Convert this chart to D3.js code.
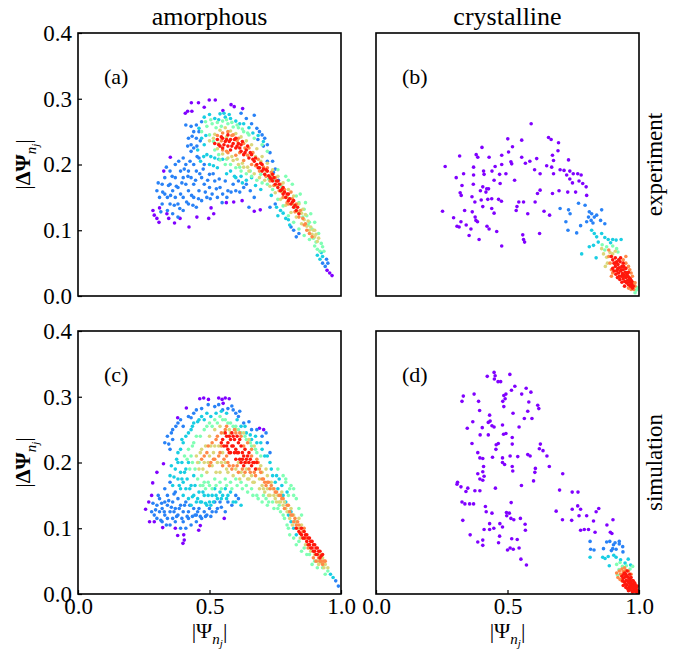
<!DOCTYPE html>
<html>
<head>
<meta charset="utf-8" />
<title>amorphous vs crystalline</title>
<script src="https://cdn.jsdelivr.net/npm/d3@7"></script>
<style>
  html, body { margin: 0; background: #fff; }
  svg text { font-family: "Liberation Serif", "Times New Roman", serif; fill: #000; }
</style>
</head>
<body>
<svg id="chart" width="685" height="651"></svg>
<script>
// ---- data ----
var xTicks = [0, 0.5, 1.0];
var yTicks = [0, 0.1, 0.2, 0.3, 0.4];
var colTitles = ["amorphous", "crystalline"];
var rowTitles = ["experiment", "simulation"];
var panelTags = ["(a)", "(b)", "(c)", "(d)"];
// colour level of each group (position in the rainbow map, i.e. point density)
var levels = { purple: 0, blue: 0.17, cyan: 0.3, green: 0.5, yellow: 0.68, orange: 0.82, red: 0.97 };

// (a) amorphous / experiment
var aPurple = [[0.408,0.278],[0.417,0.281],[0.433,0.281],[0.431,0.294],[0.458,0.294],[0.499,0.298],[0.522,0.298],[0.551,0.282],[0.582,0.291],[0.594,0.288],[0.626,0.285],[0.48,0.287],
  [0.285,0.13],[0.29,0.123],[0.3,0.118],[0.308,0.112],[0.351,0.211],[0.326,0.19],[0.345,0.118],[0.367,0.111],[0.388,0.118],[0.422,0.105],[0.452,0.12],[0.497,0.118],[0.516,0.125],[0.506,0.134],
  [0.564,0.142],[0.592,0.143],[0.624,0.145],[0.67,0.129],[0.693,0.131],[0.31,0.134],[0.338,0.125],[0.957,0.035],[0.966,0.031],[0.947,0.039]];
var aBlue = [[0.30,0.16],[0.31,0.15],[0.32,0.17],[0.32,0.14],[0.33,0.18],[0.33,0.155],[0.34,0.13],[0.34,0.15],[0.35,0.19],[0.35,0.17],[0.35,0.14],[0.36,0.16],[0.36,0.125],[0.37,0.2],
  [0.37,0.18],[0.37,0.15],[0.38,0.165],[0.38,0.14],[0.38,0.12],[0.39,0.19],[0.39,0.155],[0.40,0.21],[0.40,0.18],[0.40,0.15],[0.40,0.13],[0.41,0.17],[0.41,0.2],[0.42,0.14],[0.42,0.19],
  [0.42,0.16],[0.43,0.22],[0.43,0.18],[0.44,0.15],[0.44,0.2],[0.44,0.17],[0.45,0.135],[0.45,0.19],[0.46,0.16],[0.46,0.21],[0.47,0.18],[0.47,0.145],[0.48,0.2],[0.48,0.17],[0.49,0.15],
  [0.5,0.185],[0.5,0.165],[0.51,0.155],[0.52,0.175],[0.53,0.15],[0.54,0.165],[0.55,0.155],[0.56,0.175],[0.57,0.16],[0.59,0.17],[0.6,0.16],[0.61,0.175],[0.63,0.165],[0.64,0.17],
  [0.42,0.24],[0.43,0.23],[0.44,0.25],[0.44,0.225],[0.45,0.26],[0.45,0.24],[0.46,0.25],[0.47,0.265],[0.43,0.258],[0.41,0.26],
  [0.65,0.135],[0.67,0.15],[0.73,0.135],[0.75,0.14],[0.82,0.1],[0.83,0.09],[0.84,0.095],[0.81,0.105],
  [0.62,0.278],[0.64,0.27],[0.66,0.262],[0.68,0.255],[0.69,0.25],[0.7,0.245],[0.71,0.24],[0.72,0.23],[0.73,0.218],[0.74,0.205],[0.75,0.193],[0.72,0.205],[0.67,0.275],
  [0.93,0.05],[0.94,0.045],[0.95,0.05],[0.945,0.056],
  [0.305,0.172],[0.315,0.128],[0.322,0.158],[0.336,0.196],[0.344,0.168],[0.352,0.153],[0.358,0.182],[0.366,0.138],[0.374,0.167],[0.383,0.205],[0.387,0.133],[0.395,0.172],
  [0.404,0.193],[0.413,0.143],[0.418,0.182],[0.426,0.205],[0.432,0.153],[0.437,0.138],[0.447,0.176],[0.453,0.212],[0.458,0.148],[0.463,0.186],[0.476,0.193],[0.484,0.158],
  [0.493,0.176],[0.503,0.148],[0.514,0.186],[0.526,0.163],[0.537,0.178],[0.548,0.142],[0.566,0.15],[0.582,0.158],[0.615,0.158],[0.655,0.16],[0.434,0.243],[0.452,0.228],
  [0.465,0.236],[0.417,0.228],[0.684,0.238],[0.705,0.228],[0.743,0.188],[0.762,0.176]];
var aCyan = [[0.46,0.255],[0.48,0.272],[0.5,0.276],[0.52,0.27],[0.54,0.277],[0.56,0.272],[0.58,0.27],[0.6,0.266],[0.5,0.2],[0.52,0.21],[0.53,0.195],[0.55,0.208],[0.58,0.19],[0.6,0.18],
  [0.62,0.182],[0.64,0.176],[0.66,0.18],[0.48,0.23],[0.47,0.24],[0.76,0.122],[0.77,0.13],[0.78,0.126],[0.8,0.116],[0.91,0.062],[0.92,0.056],[0.93,0.06],[0.925,0.066],[0.49,0.215],
  [0.63,0.262],[0.65,0.256],
  [0.455,0.222],[0.466,0.205],[0.478,0.212],[0.486,0.244],[0.505,0.212],[0.515,0.198],[0.535,0.208],[0.565,0.186],[0.595,0.182],[0.625,0.172],[0.675,0.168],[0.695,0.162],
  [0.735,0.153],[0.755,0.135],[0.79,0.118],[0.805,0.108],[0.555,0.278],[0.575,0.276],[0.535,0.268],[0.615,0.262],[0.665,0.248],[0.685,0.244],[0.705,0.235]];
var aGreen = [[0.47,0.25],[0.49,0.258],[0.51,0.262],[0.53,0.264],[0.55,0.266],[0.57,0.262],[0.59,0.257],[0.61,0.256],[0.63,0.25],[0.65,0.245],[0.67,0.24],[0.5,0.245],[0.52,0.222],
  [0.54,0.207],[0.56,0.2],[0.58,0.2],[0.6,0.195],[0.62,0.19],[0.64,0.186],[0.66,0.182],[0.68,0.176],[0.7,0.172],[0.72,0.17],[0.74,0.162],[0.76,0.147],[0.78,0.137],[0.8,0.122],
  [0.82,0.112],[0.84,0.102],[0.86,0.092],[0.88,0.086],[0.9,0.076],[0.91,0.071],[0.92,0.068],[0.83,0.152],[0.84,0.142],[0.86,0.132],[0.87,0.122],[0.88,0.112],[0.89,0.102],
  [0.79,0.182],[0.8,0.176],[0.76,0.192],[0.72,0.22],[0.7,0.23],[0.935,0.068],[0.93,0.075],
  [0.485,0.265],[0.505,0.268],[0.525,0.256],[0.545,0.258],[0.565,0.268],[0.585,0.264],[0.605,0.26],[0.625,0.254],[0.645,0.248],[0.515,0.235],[0.535,0.215],[0.565,0.208],
  [0.615,0.196],[0.655,0.19],[0.695,0.185],[0.725,0.178],[0.745,0.176],[0.775,0.166],[0.805,0.148],[0.825,0.135],[0.855,0.12],[0.875,0.108],[0.895,0.088],[0.905,0.082],
  [0.815,0.17],[0.845,0.155],[0.865,0.142],[0.885,0.125],[0.9,0.112],[0.915,0.095],[0.925,0.08]];
var aYellow = [[0.5,0.236],[0.52,0.246],[0.54,0.252],[0.56,0.256],[0.58,0.251],[0.6,0.247],[0.62,0.242],[0.64,0.236],[0.66,0.23],[0.68,0.224],[0.7,0.212],[0.72,0.202],[0.74,0.192],
  [0.76,0.182],[0.78,0.172],[0.8,0.162],[0.82,0.152],[0.84,0.14],[0.85,0.126],[0.86,0.116],[0.87,0.106],[0.88,0.1],[0.89,0.094],[0.9,0.09],[0.91,0.083],[0.9,0.1],[0.53,0.224],
  [0.55,0.216],[0.57,0.21],[0.59,0.206],[0.61,0.2],[0.63,0.196],[0.65,0.19],[0.67,0.186],[0.69,0.18],[0.71,0.176],[0.73,0.167],[0.75,0.157],[0.77,0.147],[0.79,0.138],[0.81,0.127],
  [0.83,0.12],[0.85,0.11],
  [0.515,0.24],[0.535,0.232],[0.565,0.242],[0.585,0.212],[0.605,0.208],[0.625,0.202],[0.645,0.196],[0.675,0.212],[0.695,0.205],[0.715,0.19],[0.735,0.183],[0.755,0.168],
  [0.775,0.158],[0.795,0.15],[0.815,0.14],[0.835,0.128],[0.855,0.132],[0.865,0.124],[0.875,0.114],[0.885,0.105],[0.895,0.1],[0.905,0.094],[0.915,0.088]];
var aOrange = [[0.53,0.244],[0.55,0.248],[0.57,0.25],[0.59,0.245],[0.61,0.24],[0.63,0.232],[0.65,0.225],[0.55,0.222],[0.57,0.218],[0.6,0.214],[0.63,0.206],[0.66,0.2],[0.69,0.19],
  [0.72,0.195],[0.73,0.175],[0.75,0.18],[0.77,0.17],[0.78,0.15],[0.8,0.14],[0.81,0.158],[0.83,0.14],[0.84,0.12],[0.86,0.108],[0.87,0.1],[0.88,0.095],[0.89,0.09],
  [0.545,0.236],[0.565,0.22],[0.585,0.244],[0.605,0.236],[0.615,0.218],[0.635,0.225],[0.645,0.214],[0.665,0.218],[0.675,0.198],[0.685,0.208],[0.705,0.196],[0.715,0.182],
  [0.735,0.188],[0.745,0.168],[0.765,0.16],[0.785,0.162],[0.795,0.142],[0.815,0.148],[0.825,0.128],[0.845,0.13],[0.855,0.118],[0.865,0.11]];
var aRed = [[0.52,0.232],[0.53,0.238],[0.54,0.228],[0.55,0.24],[0.55,0.225],[0.56,0.235],[0.57,0.245],[0.57,0.228],[0.58,0.238],[0.58,0.222],[0.59,0.232],[0.6,0.24],[0.6,0.225],
  [0.61,0.232],[0.62,0.22],[0.62,0.23],[0.63,0.215],[0.64,0.222],[0.65,0.21],[0.66,0.215],[0.67,0.205],[0.68,0.2],[0.69,0.195],[0.7,0.19],[0.7,0.2],[0.71,0.185],[0.72,0.19],
  [0.73,0.18],[0.74,0.175],[0.74,0.185],[0.75,0.17],[0.76,0.165],[0.76,0.175],[0.77,0.16],[0.78,0.155],[0.78,0.165],[0.79,0.15],[0.8,0.145],[0.8,0.155],[0.81,0.14],[0.82,0.135],
  [0.82,0.145],[0.83,0.13],[0.84,0.125],
  [0.535,0.23],[0.545,0.242],[0.555,0.23],[0.565,0.238],[0.575,0.235],[0.585,0.228],[0.595,0.238],[0.605,0.228],[0.615,0.225],[0.625,0.235],[0.635,0.218],[0.645,0.228],
  [0.655,0.218],[0.665,0.208],[0.675,0.21],[0.685,0.195],[0.695,0.202],[0.705,0.193],[0.715,0.192],[0.725,0.183],[0.735,0.178],[0.745,0.18],[0.755,0.175],[0.765,0.17],
  [0.775,0.162],[0.785,0.158],[0.795,0.155],[0.805,0.148],[0.815,0.143],[0.825,0.138],[0.835,0.135]];

// (b) crystalline / experiment
var bPurple = [[0.59,0.262],[0.501,0.239],[0.554,0.237],[0.656,0.241],[0.666,0.238],[0.694,0.233],[0.403,0.226],[0.519,0.227],[0.504,0.219],[0.318,0.213],[0.381,0.215],[0.387,0.211],
  [0.43,0.211],[0.478,0.214],[0.554,0.211],[0.611,0.209],[0.671,0.214],[0.692,0.221],[0.675,0.206],[0.732,0.207],[0.263,0.197],[0.371,0.196],[0.453,0.197],[0.478,0.2],[0.513,0.204],
  [0.516,0.201],[0.568,0.202],[0.585,0.205],[0.603,0.192],[0.7,0.192],[0.715,0.191],[0.737,0.19],[0.305,0.18],[0.371,0.184],[0.411,0.185],[0.449,0.176],[0.47,0.185],[0.494,0.186],
  [0.527,0.176],[0.675,0.186],[0.767,0.186],[0.78,0.184],[0.327,0.168],[0.37,0.17],[0.406,0.166],[0.421,0.163],[0.472,0.171],[0.737,0.178],[0.747,0.172],[0.772,0.175],[0.786,0.171],
  [0.32,0.157],[0.324,0.153],[0.397,0.16],[0.418,0.158],[0.428,0.163],[0.425,0.147],[0.44,0.148],[0.466,0.147],[0.477,0.144],[0.624,0.161],[0.614,0.156],[0.671,0.156],[0.696,0.16],
  [0.729,0.158],[0.759,0.158],[0.799,0.166],[0.801,0.153],[0.365,0.151],[0.376,0.143],[0.4,0.146],[0.406,0.136],[0.543,0.143],[0.561,0.143],[0.605,0.143],[0.253,0.129],[0.337,0.13],
  [0.366,0.128],[0.44,0.133],[0.449,0.126],[0.533,0.13],[0.536,0.136],[0.577,0.125],[0.639,0.129],[0.66,0.123],[0.295,0.119],[0.377,0.12],[0.38,0.115],[0.386,0.113],[0.323,0.113],
  [0.308,0.106],[0.316,0.105],[0.343,0.108],[0.361,0.102],[0.422,0.106],[0.43,0.102],[0.459,0.098],[0.558,0.093],[0.561,0.086],[0.565,0.082],[0.622,0.095],[0.354,0.092],[0.392,0.086],
  [0.478,0.076],[0.333,0.186],[0.409,0.19],[0.441,0.19],[0.624,0.186],[0.649,0.198],[0.668,0.196],[0.725,0.184],[0.75,0.186]];
var bBlue = [[0.7,0.133],[0.732,0.131],[0.738,0.125],[0.77,0.141],[0.795,0.138],[0.811,0.128],[0.82,0.125],[0.83,0.12],[0.839,0.123],[0.858,0.131],[0.722,0.113],[0.73,0.1],
  [0.763,0.096],[0.778,0.107],[0.801,0.113],[0.808,0.12],[0.818,0.115],[0.825,0.111],[0.854,0.115],[0.87,0.11]];
var bCyan = [[0.82,0.1],[0.83,0.095],[0.839,0.09],[0.858,0.095],[0.87,0.089],[0.883,0.086],[0.9,0.086],[0.913,0.085],[0.932,0.086],[0.892,0.081],[0.827,0.077],[0.811,0.075],
  [0.837,0.058],[0.782,0.064],[0.845,0.082]];
var bGreen = [[0.877,0.075],[0.915,0.072],[0.92,0.067],[0.86,0.078],[0.87,0.07],[0.9,0.076],[0.99,0.009],[0.985,0.005],[0.993,0.013]];
var bYellow = [[0.858,0.072],[0.865,0.064],[0.877,0.059],[0.89,0.066],[0.9,0.064],[0.872,0.045],[0.91,0.068],[0.88,0.05]];
var bOrange = [[0.885,0.07],[0.89,0.05],[0.895,0.04],[0.95,0.05],[0.965,0.04],[0.975,0.03],[0.98,0.02],[0.985,0.015],[0.97,0.01],[0.96,0.012],[0.98,0.01],[0.9,0.035],[0.94,0.055],
  [0.885,0.06],[0.95,0.06],[0.96,0.045],[0.97,0.035],[0.985,0.02],[0.895,0.03]];
var bRed = [[0.895,0.06],[0.9,0.055],[0.905,0.05],[0.91,0.058],[0.91,0.045],[0.915,0.052],[0.918,0.04],[0.92,0.048],[0.922,0.035],[0.925,0.043],[0.928,0.052],[0.93,0.038],
  [0.932,0.03],[0.935,0.045],[0.937,0.034],[0.94,0.026],[0.94,0.04],[0.943,0.032],[0.946,0.022],[0.948,0.036],[0.95,0.028],[0.953,0.02],[0.955,0.032],[0.957,0.024],[0.96,0.017],
  [0.962,0.028],[0.965,0.021],[0.968,0.015],[0.97,0.024],[0.972,0.018],[0.975,0.012],[0.9,0.042],[0.905,0.038],[0.912,0.033],[0.918,0.028],[0.927,0.025],[0.935,0.021],[0.945,0.015],
  [0.93,0.058],[0.94,0.05],[0.95,0.042],[0.96,0.036],
  [0.91,0.05],[0.92,0.042],[0.925,0.03],[0.933,0.04],[0.938,0.03],[0.942,0.045],[0.948,0.03],[0.952,0.035],[0.958,0.03],[0.963,0.024],[0.967,0.026],[0.973,0.022],[0.978,0.015],
  [0.923,0.055],[0.915,0.038]];

// (c) amorphous / simulation
var cPurple = [[0.463,0.297],[0.478,0.298],[0.496,0.296],[0.535,0.298],[0.548,0.296],[0.56,0.298],[0.575,0.297],[0.552,0.29],[0.412,0.283],[0.257,0.129],[0.269,0.14],[0.272,0.11],
  [0.284,0.169],[0.3,0.185],[0.322,0.101],[0.325,0.198],[0.37,0.1],[0.379,0.089],[0.402,0.09],[0.404,0.082],[0.399,0.077],[0.459,0.097],[0.465,0.104],[0.556,0.115],[0.379,0.268],
  [0.706,0.25],[0.69,0.252],[0.28,0.15],[0.29,0.11]];
var cBlue = [[0.28,0.125],[0.29,0.12],[0.3,0.135],[0.3,0.115],[0.31,0.125],[0.31,0.145],[0.32,0.13],[0.32,0.11],[0.33,0.14],[0.33,0.12],[0.33,0.16],[0.34,0.115],[0.34,0.135],
  [0.34,0.15],[0.35,0.105],[0.35,0.125],[0.35,0.17],[0.36,0.14],[0.36,0.115],[0.37,0.13],[0.37,0.155],[0.37,0.11],[0.38,0.12],[0.38,0.145],[0.39,0.1],[0.39,0.135],[0.4,0.11],
  [0.4,0.125],[0.41,0.1],[0.41,0.14],[0.42,0.115],[0.42,0.125],[0.43,0.105],[0.44,0.13],[0.45,0.11],[0.45,0.12],[0.46,0.13],[0.47,0.115],[0.48,0.125],[0.49,0.12],[0.5,0.13],
  [0.51,0.125],[0.52,0.14],[0.53,0.13],[0.54,0.14],[0.56,0.125],[0.57,0.14],[0.6,0.15],[0.61,0.145],[0.33,0.23],[0.34,0.24],[0.35,0.22],[0.36,0.235],[0.36,0.25],[0.38,0.26],
  [0.4,0.255],[0.42,0.27],[0.44,0.275],[0.45,0.28],[0.52,0.285],[0.55,0.28],[0.57,0.282],[0.59,0.28],[0.6,0.275],[0.61,0.27],[0.63,0.26],[0.66,0.25],[0.68,0.25],[0.7,0.24],
  [0.72,0.23],[0.98,0.02],[0.99,0.012],
  [0.285,0.138],[0.295,0.128],[0.305,0.15],[0.315,0.112],[0.318,0.138],[0.328,0.125],[0.336,0.105],[0.345,0.142],[0.355,0.132],[0.365,0.125],[0.365,0.152],[0.375,0.118],
  [0.385,0.13],[0.395,0.115],[0.405,0.135],[0.415,0.118],[0.425,0.135],[0.435,0.118],[0.445,0.12],[0.455,0.125],[0.465,0.118],[0.485,0.118],[0.505,0.118],[0.525,0.125],
  [0.545,0.132],[0.585,0.135],[0.345,0.228],[0.355,0.245],[0.372,0.255],[0.39,0.265],[0.43,0.268],[0.47,0.282],[0.495,0.288],[0.535,0.288],[0.585,0.286],[0.615,0.278],
  [0.65,0.262],[0.715,0.245],[0.73,0.215]];
var cCyan = [[0.35,0.18],[0.36,0.165],[0.37,0.19],[0.38,0.175],[0.38,0.2],[0.39,0.16],[0.39,0.185],[0.4,0.15],[0.4,0.17],[0.41,0.19],[0.41,0.16],[0.42,0.145],[0.42,0.2],[0.43,0.135],
  [0.43,0.165],[0.44,0.15],[0.44,0.18],[0.45,0.14],[0.46,0.155],[0.47,0.14],[0.48,0.15],[0.49,0.135],[0.5,0.14],[0.51,0.15],[0.52,0.16],[0.53,0.145],[0.54,0.155],[0.55,0.15],
  [0.56,0.16],[0.57,0.15],[0.39,0.22],[0.4,0.23],[0.41,0.24],[0.43,0.25],[0.44,0.26],[0.46,0.265],[0.47,0.27],[0.49,0.275],[0.62,0.255],[0.64,0.245],[0.66,0.235],[0.68,0.23],
  [0.7,0.22],[0.71,0.21],[0.73,0.2],[0.74,0.18],[0.75,0.17],[0.76,0.16],[0.78,0.15],[0.79,0.14],[0.8,0.12],[0.81,0.11],[0.82,0.1],[0.83,0.09],[0.96,0.03],[0.97,0.025],
  [0.6,0.14],[0.62,0.135],
  [0.355,0.195],[0.365,0.178],[0.375,0.205],[0.385,0.165],[0.395,0.175],[0.395,0.2],[0.405,0.185],[0.415,0.175],[0.425,0.16],[0.435,0.148],[0.445,0.165],[0.455,0.145],
  [0.465,0.14],[0.475,0.155],[0.485,0.138],[0.495,0.15],[0.505,0.135],[0.515,0.14],[0.525,0.15],[0.545,0.145],[0.565,0.145],[0.58,0.155],[0.59,0.14],[0.38,0.215],[0.395,0.235],
  [0.42,0.245],[0.435,0.255],[0.455,0.262],[0.48,0.265],[0.505,0.27],[0.525,0.275],[0.545,0.278],[0.565,0.275],[0.605,0.265],[0.635,0.255],[0.655,0.242],[0.675,0.24],
  [0.695,0.23],[0.72,0.21],[0.735,0.19],[0.755,0.18],[0.765,0.175],[0.775,0.165],[0.795,0.155],[0.81,0.125],[0.825,0.11]];
var cGreen = [[0.42,0.22],[0.43,0.21],[0.44,0.23],[0.45,0.24],[0.46,0.2],[0.47,0.18],[0.48,0.17],[0.48,0.25],[0.5,0.165],[0.5,0.26],[0.52,0.175],[0.52,0.265],[0.54,0.17],[0.54,0.27],
  [0.56,0.175],[0.56,0.265],[0.58,0.17],[0.58,0.26],[0.6,0.175],[0.6,0.255],[0.62,0.17],[0.62,0.245],[0.64,0.165],[0.64,0.235],[0.66,0.16],[0.66,0.225],[0.68,0.15],[0.68,0.215],
  [0.7,0.14],[0.72,0.135],[0.74,0.14],[0.76,0.13],[0.78,0.12],[0.8,0.15],[0.81,0.165],[0.82,0.16],[0.83,0.145],[0.84,0.13],[0.85,0.12],[0.8,0.1],[0.82,0.085],[0.84,0.08],
  [0.86,0.07],[0.88,0.06],[0.9,0.05],[0.93,0.04],[0.95,0.035],[0.76,0.19],[0.78,0.18],[0.79,0.17],
  [0.405,0.21],[0.415,0.205],[0.425,0.19],[0.435,0.2],[0.435,0.225],[0.445,0.19],[0.455,0.175],[0.465,0.165],[0.465,0.24],[0.475,0.165],[0.485,0.16],[0.49,0.255],[0.495,0.17],
  [0.51,0.16],[0.51,0.255],[0.525,0.165],[0.53,0.26],[0.545,0.16],[0.55,0.265],[0.565,0.165],[0.57,0.26],[0.585,0.16],[0.59,0.255],[0.605,0.165],[0.61,0.25],[0.625,0.16],
  [0.635,0.24],[0.645,0.155],[0.655,0.23],[0.665,0.15],[0.675,0.22],[0.685,0.145],[0.695,0.21],[0.705,0.15],[0.715,0.145],[0.725,0.14],[0.745,0.13],[0.765,0.135],[0.77,0.125],
  [0.785,0.115],[0.795,0.105],[0.805,0.09],[0.83,0.075],[0.85,0.065],[0.87,0.06],[0.89,0.045],[0.91,0.04],[0.94,0.03],[0.805,0.16],[0.82,0.15],[0.79,0.175]];
var cYellow = [[0.45,0.21],[0.46,0.19],[0.47,0.22],[0.48,0.2],[0.49,0.185],[0.5,0.24],[0.5,0.21],[0.51,0.195],[0.52,0.25],[0.52,0.225],[0.53,0.2],[0.54,0.255],[0.54,0.185],
  [0.55,0.215],[0.56,0.2],[0.57,0.185],[0.58,0.245],[0.6,0.19],[0.61,0.2],[0.62,0.185],[0.63,0.18],[0.64,0.19],[0.65,0.175],[0.66,0.18],[0.67,0.17],[0.68,0.19],[0.69,0.175],
  [0.7,0.165],[0.7,0.185],[0.71,0.155],[0.72,0.16],[0.72,0.18],[0.73,0.15],[0.74,0.16],[0.75,0.145],[0.76,0.15],[0.77,0.14],[0.78,0.135],[0.79,0.13],[0.8,0.125],[0.81,0.13],
  [0.82,0.12],[0.83,0.11],[0.84,0.115],[0.85,0.105],[0.91,0.05],[0.92,0.06],[0.93,0.055],[0.94,0.045],[0.95,0.04],
  [0.455,0.2],[0.465,0.215],[0.475,0.19],[0.485,0.225],[0.495,0.2],[0.505,0.225],[0.515,0.215],[0.525,0.185],[0.535,0.225],[0.545,0.2],[0.555,0.245],[0.565,0.19],[0.575,0.25],
  [0.59,0.18],[0.6,0.25],[0.615,0.175],[0.63,0.245],[0.645,0.175],[0.65,0.235],[0.665,0.17],[0.67,0.225],[0.69,0.16],[0.695,0.195],[0.705,0.16],[0.715,0.19],[0.725,0.15],
  [0.735,0.17],[0.745,0.15],[0.755,0.14],[0.765,0.14],[0.775,0.155],[0.785,0.14],[0.795,0.125],[0.805,0.115],[0.815,0.105],[0.835,0.1],[0.845,0.085],[0.865,0.075],[0.885,0.065],
  [0.9,0.06],[0.915,0.045],[0.925,0.048],[0.935,0.04]];
var cOrange = [[0.47,0.205],[0.49,0.215],[0.5,0.195],[0.51,0.23],[0.52,0.205],[0.53,0.24],[0.54,0.215],[0.55,0.195],[0.56,0.25],[0.57,0.2],[0.59,0.195],[0.6,0.245],[0.61,0.185],
  [0.62,0.24],[0.63,0.225],[0.64,0.2],[0.65,0.19],[0.66,0.21],[0.67,0.185],[0.68,0.205],[0.69,0.19],[0.7,0.175],[0.71,0.17],[0.72,0.17],[0.73,0.16],[0.75,0.155],[0.77,0.15],
  [0.78,0.145],[0.8,0.135],[0.81,0.12],[0.82,0.11],[0.83,0.105],[0.84,0.105],[0.86,0.1],[0.93,0.045],[0.94,0.05],[0.92,0.05],
  [0.48,0.21],[0.495,0.225],[0.505,0.2],[0.515,0.205],[0.525,0.235],[0.535,0.21],[0.545,0.225],[0.545,0.245],[0.555,0.205],[0.565,0.21],[0.565,0.255],[0.575,0.195],[0.585,0.19],
  [0.595,0.25],[0.605,0.195],[0.615,0.245],[0.625,0.19],[0.635,0.185],[0.645,0.23],[0.655,0.185],[0.66,0.22],[0.675,0.18],[0.685,0.2],[0.695,0.185],[0.705,0.175],[0.715,0.165],
  [0.725,0.17],[0.735,0.165],[0.745,0.16],[0.755,0.155],[0.765,0.15],[0.775,0.145],[0.785,0.13],[0.795,0.135],[0.805,0.125],[0.815,0.12],[0.825,0.115],[0.835,0.11],[0.845,0.1],
  [0.855,0.095],[0.865,0.085],[0.875,0.07],[0.895,0.055],[0.905,0.05],[0.915,0.055],[0.925,0.05],[0.935,0.05]];
var cRed = [[0.55,0.235],[0.56,0.245],[0.57,0.23],[0.57,0.22],[0.58,0.235],[0.58,0.215],[0.59,0.225],[0.59,0.24],[0.6,0.22],[0.6,0.205],[0.61,0.23],[0.61,0.215],[0.62,0.2],
  [0.62,0.225],[0.63,0.21],[0.63,0.195],[0.64,0.205],[0.65,0.215],[0.65,0.2],[0.66,0.195],[0.67,0.2],[0.68,0.2],[0.83,0.1],[0.84,0.095],[0.85,0.09],[0.85,0.1],[0.86,0.085],
  [0.86,0.095],[0.87,0.08],[0.87,0.09],[0.88,0.075],[0.88,0.085],[0.89,0.07],[0.89,0.08],[0.9,0.065],[0.9,0.075],[0.91,0.06],[0.91,0.07],[0.92,0.065],[0.92,0.055],[0.93,0.06],
  [0.545,0.23],[0.555,0.225],[0.565,0.24],[0.565,0.225],[0.575,0.24],[0.575,0.215],[0.585,0.245],[0.585,0.225],[0.595,0.215],[0.595,0.235],[0.605,0.215],[0.605,0.24],[0.615,0.205],
  [0.615,0.235],[0.625,0.215],[0.625,0.205],[0.635,0.2],[0.635,0.22],[0.645,0.21],[0.655,0.205],[0.665,0.2],[0.675,0.19],[0.845,0.092],[0.855,0.085],[0.865,0.09],[0.875,0.085],
  [0.875,0.075],[0.885,0.07],[0.885,0.08],[0.895,0.065],[0.895,0.075],[0.905,0.07],[0.905,0.06],[0.915,0.065],[0.925,0.058]];

// (d) crystalline / simulation
var dPurple = [[0.423,0.331],[0.449,0.337],[0.453,0.332],[0.45,0.327],[0.464,0.323],[0.474,0.323],[0.509,0.334],[0.528,0.316],[0.515,0.31],[0.571,0.313],[0.589,0.307],[0.554,0.304],
  [0.332,0.301],[0.327,0.293],[0.373,0.304],[0.39,0.293],[0.486,0.302],[0.494,0.304],[0.491,0.297],[0.482,0.293],[0.581,0.292],[0.615,0.287],[0.619,0.282],[0.394,0.279],[0.432,0.272],
  [0.521,0.275],[0.486,0.285],[0.577,0.278],[0.564,0.267],[0.593,0.267],[0.368,0.262],[0.347,0.252],[0.404,0.253],[0.427,0.261],[0.434,0.263],[0.441,0.256],[0.449,0.254],[0.481,0.257],
  [0.396,0.242],[0.427,0.242],[0.485,0.243],[0.494,0.244],[0.544,0.254],[0.518,0.238],[0.365,0.229],[0.457,0.227],[0.465,0.229],[0.456,0.22],[0.518,0.228],[0.625,0.228],[0.621,0.221],
  [0.635,0.218],[0.65,0.21],[0.577,0.212],[0.586,0.21],[0.387,0.215],[0.395,0.207],[0.406,0.206],[0.443,0.208],[0.481,0.207],[0.489,0.197],[0.51,0.21],[0.539,0.209],[0.409,0.194],
  [0.481,0.2],[0.518,0.194],[0.52,0.187],[0.606,0.191],[0.604,0.185],[0.659,0.194],[0.387,0.183],[0.406,0.186],[0.395,0.175],[0.406,0.173],[0.411,0.179],[0.599,0.172],[0.71,0.183],
  [0.31,0.17],[0.308,0.167],[0.323,0.163],[0.349,0.161],[0.342,0.156],[0.376,0.157],[0.395,0.157],[0.454,0.161],[0.553,0.165],[0.698,0.158],[0.746,0.155],[0.768,0.155],[0.327,0.14],
  [0.338,0.137],[0.356,0.137],[0.371,0.137],[0.514,0.139],[0.767,0.134],[0.778,0.129],[0.746,0.129],[0.847,0.13],[0.837,0.125],[0.685,0.126],[0.416,0.133],[0.419,0.125],[0.441,0.123],
  [0.496,0.124],[0.507,0.123],[0.513,0.115],[0.524,0.113],[0.549,0.115],[0.497,0.119],[0.33,0.112],[0.432,0.107],[0.471,0.107],[0.432,0.098],[0.411,0.098],[0.448,0.1],[0.481,0.102],
  [0.567,0.106],[0.568,0.097],[0.358,0.09],[0.387,0.079],[0.406,0.082],[0.406,0.074],[0.47,0.088],[0.466,0.078],[0.5,0.067],[0.51,0.07],[0.522,0.068],[0.516,0.084],[0.537,0.083],
  [0.544,0.07],[0.551,0.053],[0.572,0.044],[0.709,0.113],[0.744,0.112],[0.772,0.119],[0.801,0.119],[0.778,0.097],[0.792,0.098],[0.808,0.098],[0.827,0.111],[0.901,0.113],[0.878,0.105],
  [0.891,0.094],[0.897,0.092],[0.833,0.094]];
var dBlue = [[0.814,0.08],[0.816,0.068],[0.829,0.067],[0.877,0.079],[0.889,0.08],[0.903,0.075],[0.909,0.078],[0.9,0.069],[0.913,0.068],[0.925,0.076],[0.938,0.072],[0.895,0.066],
  [0.865,0.069],[0.939,0.064],[0.925,0.08]];
var dCyan = [[0.862,0.056],[0.871,0.054],[0.883,0.057],[0.904,0.059],[0.913,0.056],[0.814,0.056],[0.887,0.043],[0.93,0.052],[0.959,0.053],[0.968,0.044],[0.947,0.047]];
var dGreen = [[0.915,0.045],[0.928,0.048],[0.937,0.042],[0.952,0.043],[0.918,0.029],[0.924,0.037],[0.966,0.038],[0.976,0.042]];
var dOrange = [[0.915,0.032],[0.92,0.025],[0.925,0.035],[0.93,0.03],[0.935,0.038],[0.94,0.034],[0.945,0.04],[0.95,0.036],[0.928,0.022],[0.935,0.02],[0.96,0.035],[0.97,0.03]];
var dRed = [[0.935,0.027],[0.94,0.024],[0.942,0.03],[0.945,0.018],[0.948,0.026],[0.95,0.03],[0.952,0.021],[0.955,0.014],[0.955,0.027],[0.958,0.019],[0.96,0.025],[0.962,0.011],
  [0.963,0.017],[0.965,0.022],[0.967,0.008],[0.968,0.014],[0.97,0.019],[0.972,0.011],[0.974,0.005],[0.975,0.015],[0.977,0.01],[0.98,0.006],[0.982,0.012],[0.985,0.004],[0.987,0.008],
  [0.99,0.003],[0.992,0.006],[0.995,0.002],[0.997,0.004],[0.95,0.01],[0.96,0.005],[0.94,0.013],[0.975,0.02],[0.985,0.015],
  [0.945,0.032],[0.955,0.035],[0.965,0.03],[0.97,0.025],[0.978,0.02],[0.983,0.017],[0.99,0.01],[0.993,0.012],[0.965,0.006],[0.975,0.003],[0.957,0.008],[0.948,0.015],[0.938,0.02]];

// ---- layout ----
var svg = d3.select("#chart");
var size = 263;
var panels = [
  { left: 78,  top: 33,  tag: panelTags[0], yAx: true,  xAx: false, groups: { purple: aPurple, blue: aBlue, cyan: aCyan, green: aGreen, yellow: aYellow, orange: aOrange, red: aRed } },
  { left: 376, top: 33,  tag: panelTags[1], yAx: false, xAx: false, groups: { purple: bPurple, blue: bBlue, cyan: bCyan, green: bGreen, yellow: bYellow, orange: bOrange, red: bRed } },
  { left: 78,  top: 331, tag: panelTags[2], yAx: true,  xAx: true,  groups: { purple: cPurple, blue: cBlue, cyan: cCyan, green: cGreen, yellow: cYellow, orange: cOrange, red: cRed } },
  { left: 376, top: 331, tag: panelTags[3], yAx: false, xAx: true,  groups: { purple: dPurple, blue: dBlue, cyan: dCyan, green: dGreen, yellow: [], orange: dOrange, red: dRed } }
];

var x = d3.scaleLinear().domain([0, 1]).range([0, size]);
var y = d3.scaleLinear().domain([0, 0.4]).range([size, 0]);

// matplotlib "rainbow" colormap
function rainbow(t) {
  var r = Math.min(1, Math.abs(2 * t - 0.5)), g = Math.sin(Math.PI * t), b = Math.cos(Math.PI * t / 2);
  return d3.rgb(r * 255, g * 255, b * 255).formatHex();
}

svg.append("defs").append("clipPath").attr("id", "clip")
  .append("rect").attr("width", size).attr("height", size);

var order = ["purple", "blue", "cyan", "green", "yellow", "orange", "red"];
var serif = '"Liberation Serif", "Times New Roman", serif';

panels.forEach(function (p) {
  var g = svg.append("g").attr("transform", "translate(" + p.left + "," + p.top + ")");
  var pts = g.append("g").attr("clip-path", "url(#clip)");
  order.forEach(function (k) {
    pts.selectAll(null).data(p.groups[k]).enter().append("circle")
      .attr("cx", function (d) { return x(d[0]); })
      .attr("cy", function (d) { return y(d[1]); })
      .attr("r", 1.8)
      .attr("fill", rainbow(levels[k]));
  });

  if (p.yAx) {
    var ya = g.append("g").call(d3.axisLeft(y).tickValues(yTicks).tickFormat(d3.format(".1f")).tickSize(-4).tickPadding(6));
    ya.select(".domain").remove();
    ya.attr("font-family", serif);
    ya.selectAll("line").attr("stroke-width", 1.2);
    ya.selectAll("text").attr("font-size", 23);
  }
  if (p.xAx) {
    var xa = g.append("g").attr("transform", "translate(0," + size + ")")
      .call(d3.axisBottom(x).tickValues(xTicks).tickFormat(d3.format(".1f")).tickSize(-4).tickPadding(4));
    xa.select(".domain").remove();
    xa.attr("font-family", serif);
    xa.selectAll("line").attr("stroke-width", 1.2);
    xa.selectAll("text").attr("font-size", 23);
  }

  g.append("rect").attr("width", size).attr("height", size)
    .attr("fill", "none").attr("stroke", "#000").attr("stroke-width", 1.6);

  g.append("text").attr("x", 26).attr("y", 51).attr("font-size", 22).text(p.tag);
});

// column titles
svg.selectAll(".coltitle").data(colTitles).enter().append("text")
  .attr("x", function (d, i) { return panels[i].left + size / 2; })
  .attr("y", 25).attr("text-anchor", "middle").attr("font-size", 26)
  .text(function (d) { return d; });

// row titles on the right
svg.selectAll(".rowtitle").data(rowTitles).enter().append("text")
  .attr("transform", function (d, i) { return "translate(662," + (panels[i * 2].top + size / 2) + ") rotate(-90)"; })
  .attr("text-anchor", "middle").attr("font-size", 23)
  .text(function (d) { return d; });

// y labels |ΔΨ_{n_j}|
[panels[0], panels[2]].forEach(function (p) {
  var t = svg.append("text")
    .attr("transform", "translate(30," + (p.top + size / 2) + ") rotate(-90)")
    .attr("text-anchor", "middle").attr("font-size", 22);
  t.append("tspan").text("|");
  t.append("tspan").attr("font-weight", "bold").text("ΔΨ");
  t.append("tspan").attr("font-style", "italic").attr("font-size", 15).attr("dy", 6).text("n");
  t.append("tspan").attr("font-style", "italic").attr("font-size", 11).attr("dy", 3).text("j");
  t.append("tspan").attr("dy", -9).text("|");
});

// x labels |Ψ_{n_j}|
[panels[2], panels[3]].forEach(function (p) {
  var t = svg.append("text")
    .attr("x", p.left + size / 2).attr("y", 638)
    .attr("text-anchor", "middle").attr("font-size", 22);
  t.append("tspan").text("|Ψ");
  t.append("tspan").attr("font-style", "italic").attr("font-size", 15).attr("dy", 6).text("n");
  t.append("tspan").attr("font-style", "italic").attr("font-size", 11).attr("dy", 3).text("j");
  t.append("tspan").attr("dy", -9).text("|");
});
</script>
</body>
</html>
